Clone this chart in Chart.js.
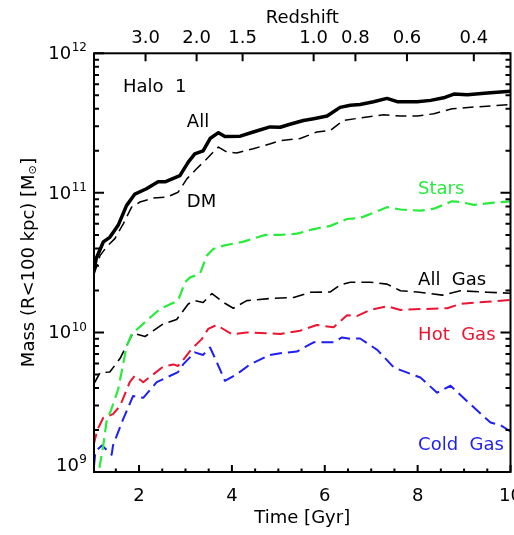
<!DOCTYPE html>
<html><head><meta charset="utf-8">
<script src="https://cdn.jsdelivr.net/npm/chart.js@4/dist/chart.umd.min.js"></script>
<style>html,body{margin:0;padding:0;background:#fff;overflow:hidden}canvas{display:block}</style>
</head><body>
<canvas id="c" width="514" height="535"></canvas>
<script>
// ---------------- DATA ----------------
const timeAll  = [1.03,1.08,1.23,1.37,1.55,1.73,1.91,2.16,2.41,2.56,2.88,3.06,3.20,3.38,3.53,3.71,3.85,4.18,4.46,4.82,5.04,5.25,5.54,5.76,6.05,6.33,6.55,6.76,7.05,7.34,7.56,7.99,8.28,8.56,8.78,9.07,9.50,10.0];
const massAll  = [2.8e10,3.4e10,4.45e10,4.8e10,5.85e10,8.1e10,9.8e10,1.07e11,1.2e11,1.2e11,1.33e11,1.66e11,1.9e11,2.0e11,2.45e11,2.7e11,2.53e11,2.55e11,2.73e11,2.97e11,2.95e11,3.1e11,3.3e11,3.4e11,3.55e11,4.1e11,4.25e11,4.3e11,4.5e11,4.75e11,4.5e11,4.5e11,4.6e11,4.8e11,5.1e11,5.05e11,5.2e11,5.35e11];

const timeDM   = [1.03,1.16,1.30,1.48,1.66,1.84,2.02,2.31,2.59,2.84,3.03,3.24,3.42,3.60,3.71,3.89,4.10,4.46,4.83,5.04,5.47,5.83,6.12,6.40,6.76,7.27,7.63,7.99,8.35,8.74,9.21,10.0];
const massDM   = [2.6e10,3.55e10,4.1e10,4.7e10,6.0e10,7.9e10,8.6e10,9.2e10,9.3e10,1.01e11,1.26e11,1.49e11,1.7e11,1.96e11,2.13e11,1.96e11,1.93e11,2.07e11,2.25e11,2.37e11,2.45e11,2.73e11,2.8e11,3.3e11,3.44e11,3.63e11,3.55e11,3.55e11,3.69e11,4.0e11,4.12e11,4.29e11];

const timeStars = [1.08,1.23,1.30,1.40,1.55,1.73,1.84,2.16,2.45,2.84,2.99,3.10,3.31,3.46,3.60,3.82,4.25,4.72,5.04,5.40,5.76,6.12,6.48,6.76,7.05,7.34,7.63,8.06,8.35,8.74,8.92,9.21,9.64,10.0];
const massStars = [8e8,1.55e9,2.3e9,2.8e9,3.9e9,7.9e9,9.7e9,1.21e10,1.47e10,1.69e10,2.29e10,2.48e10,2.62e10,3.55e10,3.96e10,4.19e10,4.47e10,5.0e10,5.0e10,5.1e10,5.5e10,5.8e10,6.5e10,6.6e10,7.2e10,7.9e10,7.6e10,7.45e10,7.7e10,8.7e10,8.6e10,8.2e10,8.5e10,8.7e10];

const timeAllGas = [1.03,1.08,1.16,1.37,1.59,1.87,2.13,2.31,2.52,2.81,3.06,3.20,3.38,3.57,3.82,4.03,4.32,4.83,5.33,5.69,6.12,6.33,6.55,6.98,7.34,7.63,7.99,8.53,8.92,9.50,10.0];
const massAllGas = [4.3e9,4.6e9,5.15e9,5.2e9,6.5e9,9.9e9,9.35e9,1.03e10,1.15e10,1.24e10,1.6e10,1.69e10,1.64e10,1.9e10,1.64e10,1.49e10,1.69e10,1.75e10,1.78e10,1.94e10,1.95e10,2.19e10,2.29e10,2.29e10,2.22e10,1.99e10,1.95e10,1.85e10,1.99e10,1.94e10,1.91e10];

const timeHotGas = [1.02,1.10,1.23,1.44,1.59,1.80,1.91,2.09,2.27,2.52,2.74,2.84,2.99,3.13,3.35,3.49,3.67,4.00,4.32,4.61,5.04,5.47,5.83,6.19,6.48,6.69,6.98,7.34,7.63,8.06,8.64,8.92,9.50,10.0];
const massHotGas = [1.55e9,2.0e9,2.45e9,2.6e9,2.97e9,4.4e9,4.9e9,4.4e9,4.9e9,5.7e9,5.9e9,5.75e9,6.6e9,7.6e9,8.95e9,1.06e10,1.13e10,9.7e9,1.0e10,9.9e9,9.75e9,1.03e10,1.13e10,1.09e10,1.33e10,1.31e10,1.45e10,1.54e10,1.45e10,1.47e10,1.49e10,1.6e10,1.66e10,1.71e10];

const timeColdGas = [1.03,1.06,1.20,1.41,1.44,1.66,1.87,2.09,2.38,2.84,2.95,3.20,3.38,3.53,3.64,3.85,4.10,4.39,4.82,5.04,5.40,5.76,6.19,6.37,6.55,6.76,7.13,7.49,8.06,8.42,8.71,9.07,9.57,9.79,10.0];
const massColdGas = [1.1e9,1.4e9,1.55e9,1.33e9,1.55e9,2.4e9,3.5e9,3.4e9,4.4e9,5.2e9,5.9e9,7.2e9,6.9e9,7.8e9,6.5e9,4.5e9,5.0e9,5.9e9,6.9e9,7.1e9,7.3e9,8.5e9,8.5e9,9.2e9,9.0e9,9.05e9,7.5e9,5.6e9,4.75e9,3.7e9,4.15e9,3.2e9,2.26e9,2.16e9,1.95e9];

const seriesNames = ['All','DM','Stars','All Gas','Hot Gas','Cold Gas'];

// axes
const xRange = [1.03, 10];
const yRange = [1e9, 1e12];
const xMajorTicks = [2, 4, 6, 8, 10];
const xMinorTicks = [1.5, 2.5, 3, 3.5, 4.5, 5, 5.5, 6.5, 7, 7.5, 8.5, 9, 9.5];
const redshiftLabels = ['3.0','2.0','1.5','1.0','0.8','0.6','0.4'];
const redshiftTimes  = [2.14, 3.24, 4.23, 5.76, 6.66, 7.77, 9.21];
const yMajorTicks = [1e9, 1e10, 1e11, 1e12];
const yExponents  = ['9','10','11','12'];
const xTitle = 'Time [Gyr]';
const topTitle = 'Redshift';
const yTitleMain = 'Mass (R<100 kpc) [M';
const yTitleSun = '\u2299';
const yTitleEnd = ']';

// in-plot text labels (data coordinates)
const noteTexts = ['Halo  1','All','DM','Stars','All  Gas','Hot  Gas','Cold  Gas'];
const noteTime  = [1.655, 3.03, 3.03, 8.01, 8.01, 8.01, 8.01];
const noteMass  = [5.28e11, 2.97e11, 7.93e10, 9.8e10, 2.19e10, 8.83e9, 1.44e9];

// ---------------- STYLE ----------------
const FONT = '"DejaVu Sans", sans-serif';
const GREEN = 'rgb(40,235,60)', RED = 'rgb(235,20,50)', BLUE = 'rgb(30,30,245)', BLACK = '#000';
const seriesStyle = [
  {color: BLACK, width: 3.5, dash: []},
  {color: BLACK, width: 1.5, dash: [11,6]},
  {color: GREEN, width: 2.2, dash: [12,6]},
  {color: BLACK, width: 1.6, dash: [12,6]},
  {color: RED,   width: 2.0, dash: [12,6]},
  {color: BLUE,  width: 2.0, dash: [12,6]}
];
const noteColors = [BLACK, BLACK, BLACK, GREEN, BLACK, RED, BLUE];

function zip(t, m) { return t.map((v, i) => ({x: v, y: m[i]})); }
const seriesData = [
  zip(timeAll, massAll), zip(timeDM, massDM), zip(timeStars, massStars),
  zip(timeAllGas, massAllGas), zip(timeHotGas, massHotGas), zip(timeColdGas, massColdGas)
];

const datasets = seriesData.map((d, i) => ({
  label: seriesNames[i], data: d,
  borderColor: seriesStyle[i].color, borderWidth: seriesStyle[i].width,
  borderDash: seriesStyle[i].dash, pointRadius: 0, tension: 0, fill: false,
  borderCapStyle: 'butt', borderJoinStyle: 'round'
}));

const idlAxes = {
  id: 'idlAxes',
  afterDraw(chart) {
    const {ctx, chartArea: a, scales} = chart;
    const x = scales.x, y = scales.y;
    ctx.save();
    ctx.strokeStyle = BLACK; ctx.lineWidth = 2; ctx.setLineDash([]);
    ctx.beginPath();
    xMajorTicks.forEach(v => { const p = x.getPixelForValue(v); ctx.moveTo(p, a.bottom); ctx.lineTo(p, a.bottom - 7); });
    xMinorTicks.forEach(v => { const p = x.getPixelForValue(v); ctx.moveTo(p, a.bottom); ctx.lineTo(p, a.bottom - 3.5); });
    redshiftTimes.forEach(v => { const p = x.getPixelForValue(v); ctx.moveTo(p, a.top); ctx.lineTo(p, a.top + 8); });
    for (let e = 9; e <= 12; e++) {
      for (let m = 1; m <= 9; m++) {
        const v = m * Math.pow(10, e);
        if (v < yRange[0] || v > yRange[1]) continue;
        const p = y.getPixelForValue(v);
        const len = m === 1 ? 10 : 5;
        ctx.moveTo(a.left, p); ctx.lineTo(a.left + len, p);
        ctx.moveTo(a.right, p); ctx.lineTo(a.right - len, p);
      }
    }
    ctx.stroke();
    ctx.strokeRect(a.left, a.top, a.right - a.left, a.bottom - a.top);

    // y tick labels with superscripts
    ctx.fillStyle = BLACK; ctx.textBaseline = 'middle'; ctx.textAlign = 'right';
    const rightEdge = a.left - 7;
    yMajorTicks.forEach((v, i) => {
      const p = Math.min(y.getPixelForValue(v) + 1, a.bottom - 6);
      ctx.font = '12px ' + FONT;
      const sw = ctx.measureText(yExponents[i]).width;
      ctx.fillText(yExponents[i], rightEdge, p - 6);
      ctx.font = '18px ' + FONT;
      ctx.fillText('10', rightEdge - sw - 0.5, p);
    });

    // y title (rotated), centred on the plot height
    ctx.save();
    ctx.translate(27, (a.top + a.bottom) / 2);
    ctx.rotate(-Math.PI / 2);
    ctx.font = '18px ' + FONT;
    const w1 = ctx.measureText(yTitleMain).width;
    ctx.font = '11px ' + FONT;
    const w2 = ctx.measureText(yTitleSun).width;
    ctx.font = '18px ' + FONT;
    const w3 = ctx.measureText(yTitleEnd).width;
    let sx = -(w1 + w2 + w3) / 2;
    ctx.textAlign = 'left'; ctx.textBaseline = 'alphabetic';
    ctx.fillText(yTitleMain, sx, 6.5);
    ctx.font = '11px ' + FONT;
    ctx.fillText(yTitleSun, sx + w1, 8.5);
    ctx.font = '18px ' + FONT;
    ctx.fillText(yTitleEnd, sx + w1 + w2 + 0.5, 6.5);
    ctx.restore();

    // in-plot labels
    ctx.font = '18px ' + FONT; ctx.textAlign = 'left'; ctx.textBaseline = 'alphabetic';
    noteTexts.forEach((t, i) => {
      ctx.fillStyle = noteColors[i];
      ctx.fillText(t, x.getPixelForValue(noteTime[i]), y.getPixelForValue(noteMass[i]));
    });
    ctx.restore();
  }
};

new Chart(document.getElementById('c'), {
  type: 'line',
  data: { datasets },
  options: {
    responsive: false, animation: false, events: [],
    layout: { padding: { left: 0, right: 3.5, top: 0, bottom: 0 } },
    plugins: { legend: { display: false }, tooltip: { enabled: false } },
    scales: {
      x: {
        type: 'linear', position: 'bottom', min: xRange[0], max: xRange[1],
        grid: { display: false, drawTicks: false }, border: { display: false },
        afterBuildTicks: s => { s.ticks = xMajorTicks.map(v => ({value: v})); },
        afterFit: s => { s.height = 63; s.paddingLeft = 0; s.paddingRight = 0; },
        ticks: { autoSkip: false, maxRotation: 0, padding: 14, color: BLACK, font: { family: FONT, size: 18 } },
        title: { display: true, text: xTitle, color: BLACK, font: { family: FONT, size: 18 }, padding: { top: 0, bottom: 6 } }
      },
      x2: {
        type: 'linear', position: 'top', min: xRange[0], max: xRange[1],
        grid: { display: false, drawTicks: false }, border: { display: false },
        afterBuildTicks: s => { s.ticks = redshiftTimes.map(v => ({value: v})); },
        afterFit: s => { s.height = 53.3; s.paddingLeft = 0; s.paddingRight = 0; },
        ticks: { autoSkip: false, maxRotation: 0, padding: 4.5, color: BLACK, font: { family: FONT, size: 18 },
                 callback: (v, i) => redshiftLabels[i] },
        title: { display: true, text: topTitle, color: BLACK, font: { family: FONT, size: 18 }, padding: { top: 8, bottom: 0 } }
      },
      y: {
        type: 'logarithmic', position: 'left', min: yRange[0], max: yRange[1],
        grid: { display: false, drawTicks: false }, border: { display: false },
        afterBuildTicks: s => { s.ticks = yMajorTicks.map(v => ({value: v})); },
        afterFit: s => { s.width = 94; s.paddingTop = 0; s.paddingBottom = 0; },
        ticks: { display: false }
      }
    }
  },
  plugins: [idlAxes]
});
</script>
</body></html>
